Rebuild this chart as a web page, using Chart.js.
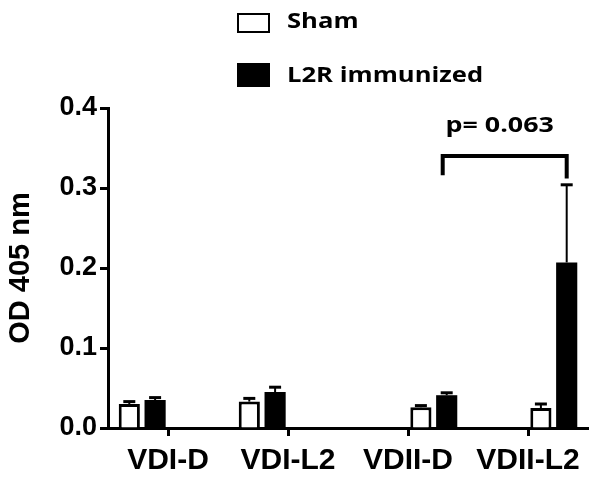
<!DOCTYPE html>
<html>
<head>
<meta charset="utf-8">
<script src="https://cdn.jsdelivr.net/npm/chart.js@4.4.0/dist/chart.umd.min.js"></script>
<style>
    html, body { margin: 0; padding: 0; background: #fff; }
    #wrap { width: 600px; height: 484px; }
</style>
</head>
<body>
<div id="wrap"><canvas id="grafico"></canvas></div>
<script>
var categorias = ['VDI-D', 'VDI-L2', 'VDII-D', 'VDII-L2'];
var shamMedia = [0.030, 0.033, 0.026, 0.025];
var shamErro = [0.003, 0.004, 0.002, 0.005];
var l2rMedia = [0.035, 0.045, 0.041, 0.207];
var l2rErro = [0.003, 0.006, 0.003, 0.097];
var yTicks = [0, 0.1, 0.2, 0.3, 0.4];
var legendaNomes = ['Sham', 'L2R immunized'];
var pTexto = 'p= 0.063';
var bracketTopo = 0.340;
var bracketPernas = [0.316, 0.312];

window.onload = function () {
    init();
};

function init() {
    carregarGrafico();
}

// bars sit left of the tick for the first two groups, right for the last two
var lado = [0, 0, 1, 1];

function serie(valores, erros, slot) {
    var v = [], e = [];
    for (var i = 0; i < valores.length; i++) {
        v.push(lado[i] === slot ? valores[i] : null);
        e.push(lado[i] === slot ? erros[i] : null);
    }
    return { v: v, e: e };
}

var errorBars = {
    id: 'errorBars',
    afterDatasetsDraw: function (chart) {
        var ctx = chart.ctx;
        var y = chart.scales.y;
        ctx.save();
        ctx.strokeStyle = '#000';
        chart.data.datasets.forEach(function (ds, di) {
            var meta = chart.getDatasetMeta(di);
            meta.data.forEach(function (bar, i) {
                if (ds.data[i] === null) return;
                var topo = y.getPixelForValue(ds.data[i] + ds.erros[i]);
                ctx.lineWidth = 2;
                ctx.beginPath();
                ctx.moveTo(bar.x, bar.y);
                ctx.lineTo(bar.x, topo);
                ctx.stroke();
                ctx.lineWidth = 3;
                ctx.beginPath();
                ctx.moveTo(bar.x - 6, topo);
                ctx.lineTo(bar.x + 6, topo);
                ctx.stroke();
            });
        });
        ctx.restore();
    }
};

// text a bit wider than the font, like the source
function textoLargo(ctx, txt, x, y, alinhamento) {
    var esc = 1.22;
    var w = ctx.measureText(txt).width * esc;
    var x0 = alinhamento === 'center' ? x - w / 2 : x;
    ctx.save();
    ctx.translate(x0, y);
    ctx.scale(esc, 1);
    ctx.textAlign = 'left';
    ctx.fillText(txt, 0, 0);
    ctx.restore();
}

var extras = {
    id: 'extras',
    afterDraw: function (chart) {
        var ctx = chart.ctx;
        var y = chart.scales.y;
        var meta = chart.getDatasetMeta(3);
        var x1 = meta.data[2].x - 4, x2 = meta.data[3].x;
        var yt = y.getPixelForValue(bracketTopo);
        ctx.save();
        ctx.strokeStyle = '#000';
        ctx.lineWidth = 4;
        ctx.lineJoin = 'miter';
        ctx.beginPath();
        ctx.moveTo(x1, y.getPixelForValue(bracketPernas[0]));
        ctx.lineTo(x1, yt);
        ctx.lineTo(x2, yt);
        ctx.lineTo(x2, y.getPixelForValue(bracketPernas[1]));
        ctx.stroke();

        ctx.fillStyle = '#000';
        ctx.font = 'bold 22px "Open Sans"';
        ctx.textBaseline = 'alphabetic';
        textoLargo(ctx, pTexto, (x1 + x2) / 2 - 5, yt - 24, 'center');

        // legend
        ctx.lineWidth = 2;
        ctx.strokeRect(238, 14, 31, 18);
        ctx.fillRect(237, 63, 33, 24);
        ctx.font = 'bold 21px "Open Sans"';
        textoLargo(ctx, legendaNomes[0], 287, 28, 'left');
        textoLargo(ctx, legendaNomes[1], 287, 82, 'left');
        ctx.restore();
    }
};

function carregarGrafico() {
    var ctx = document.getElementById('grafico');
    var sL = serie(shamMedia, shamErro, 0);
    var lL = serie(l2rMedia, l2rErro, 0);
    var sR = serie(shamMedia, shamErro, 1);
    var lR = serie(l2rMedia, l2rErro, 1);
    var sham = { backgroundColor: '#fff', borderColor: '#000', borderWidth: 3 };
    var l2r = { backgroundColor: '#000', borderColor: '#000', borderWidth: 0 };
    var ds = [
        Object.assign({ label: legendaNomes[0], data: sL.v, erros: sL.e }, sham),
        Object.assign({ label: legendaNomes[1], data: lL.v, erros: lL.e }, l2r),
        Object.assign({ label: legendaNomes[0], data: sR.v, erros: sR.e }, sham),
        Object.assign({ label: legendaNomes[1], data: lR.v, erros: lR.e }, l2r)
    ];
    new Chart(ctx, {
        type: 'bar',
        data: { labels: categorias, datasets: ds },
        options: {
            responsive: true,
            maintainAspectRatio: false,
            animation: false,
            categoryPercentage: 0.86,
            barPercentage: 0.82,
            layout: { padding: { top: 108, right: 12, left: 0, bottom: 0 } },
            plugins: { legend: { display: false }, tooltip: { enabled: false } },
            scales: {
                x: {
                    grid: { display: true, drawOnChartArea: false, offset: false, color: '#000', tickLength: 8, tickWidth: 3 },
                    border: { color: '#000', width: 3 },
                    ticks: { color: '#000', font: { family: 'Liberation Sans', weight: 'bold', size: 30 }, padding: 7, maxRotation: 0 },
                    afterFit: function (s) { s.height = 56; }
                },
                y: {
                    min: 0,
                    max: 0.4,
                    afterBuildTicks: function (s) {
                        s.ticks = yTicks.map(function (v) { return { value: v }; });
                    },
                    grid: { display: true, drawOnChartArea: false, color: '#000', tickLength: 8, tickWidth: 3 },
                    border: { color: '#000', width: 3 },
                    ticks: {
                        color: '#000',
                        padding: 3,
                        font: { family: 'Liberation Sans', weight: 'bold', size: 27 },
                        callback: function (v) { return v.toFixed(1); }
                    },
                    title: {
                        display: true,
                        text: 'OD 405 nm',
                        color: '#000',
                        font: { family: 'Liberation Sans', weight: 'bold', size: 29 },
                        padding: { top: 4, bottom: 0 }
                    },
                    afterFit: function (s) { s.width = 108; }
                }
            }
        },
        plugins: [errorBars, extras]
    });
}
</script>
</body>
</html>
